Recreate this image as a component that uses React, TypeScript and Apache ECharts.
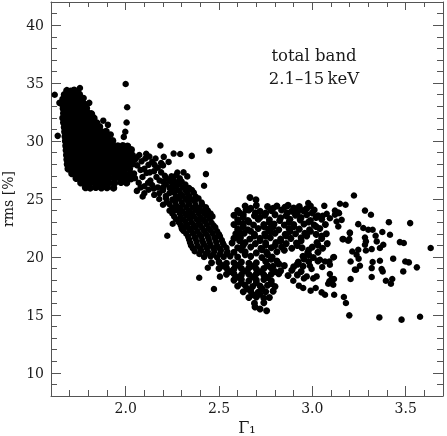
import React, { useEffect, useRef } from "react";
import * as echarts from "echarts";

// Axis ticks / labels
const xMajorTicks = [2.0, 2.5, 3.0, 3.5];
const xMinorTicks = [1.7, 1.8, 1.9, 2.1, 2.2, 2.3, 2.4, 2.6, 2.7, 2.8, 2.9, 3.1, 3.2, 3.3, 3.4, 3.6];
const yMajorTicks = [10, 15, 20, 25, 30, 35, 40];
const yMinorTicks = [9, 11, 12, 13, 14, 16, 17, 18, 19, 21, 22, 23, 24, 26, 27, 28, 29, 31, 32, 33, 34, 36, 37, 38, 39, 41];

// Dense cluster at low photon index
const clusterCore: [number, number][] = [
  [1.685,34.35],[1.705,34.3],[1.724,34.38],[1.742,34.28],
  [1.672,34.0],[1.69,33.95],[1.712,34.05],[1.733,33.98],[1.752,34.02],
  [1.664,33.6],[1.683,33.65],[1.703,33.55],[1.722,33.62],[1.745,33.58],[1.768,33.6],
  [1.66,33.2],[1.678,33.15],[1.698,33.25],[1.718,33.2],[1.74,33.18],[1.76,33.22],[1.782,33.15],
  [1.666,32.8],[1.686,32.85],[1.707,32.75],[1.727,32.8],[1.748,32.82],[1.77,32.78],[1.79,32.84],
  [1.668,32.4],[1.69,32.38],[1.71,32.45],[1.732,32.4],[1.754,32.36],[1.776,32.42],[1.798,32.4],[1.815,32.35],
  [1.664,32.0],[1.684,32.05],[1.705,31.98],[1.728,32.02],[1.75,32.0],[1.772,31.95],[1.795,32.04],[1.812,32.0],[1.83,31.96],
  [1.668,31.6],[1.69,31.62],[1.712,31.56],[1.735,31.6],[1.757,31.64],[1.78,31.58],[1.802,31.6],[1.826,31.62],[1.845,31.55],
  [1.672,31.2],[1.693,31.18],[1.715,31.24],[1.74,31.2],[1.762,31.16],[1.786,31.22],[1.81,31.2],[1.838,31.18],[1.86,31.24],
  [1.674,30.8],[1.697,30.84],[1.72,30.78],[1.744,30.8],[1.766,30.82],[1.79,30.76],[1.815,30.8],[1.842,30.84],[1.872,30.78],[1.895,30.82],
  [1.676,30.4],[1.7,30.38],[1.724,30.44],[1.748,30.4],[1.77,30.36],[1.795,30.42],[1.82,30.4],[1.848,30.38],[1.88,30.44],[1.905,30.4],
  [1.678,30.0],[1.702,30.04],[1.728,29.98],[1.752,30.0],[1.776,30.02],[1.8,29.96],[1.826,30.0],[1.852,30.04],[1.878,29.98],[1.905,30.0],[1.93,30.02],
  [1.68,29.6],[1.705,29.62],[1.73,29.56],[1.755,29.6],[1.78,29.64],[1.805,29.58],[1.83,29.6],[1.855,29.62],[1.88,29.56],[1.905,29.6],[1.93,29.64],[1.958,29.58],[1.985,29.6],[2.01,29.55],
  [1.682,29.2],[1.708,29.18],[1.733,29.24],[1.758,29.2],[1.783,29.16],[1.808,29.22],[1.833,29.2],[1.858,29.18],[1.883,29.24],[1.908,29.2],[1.933,29.16],[1.958,29.22],[1.983,29.2],[2.008,29.18],[2.03,29.25],
  [1.684,28.8],[1.71,28.84],[1.735,28.78],[1.76,28.8],[1.785,28.82],[1.81,28.76],[1.835,28.8],[1.86,28.84],[1.885,28.78],[1.91,28.8],[1.935,28.82],[1.96,28.76],[1.985,28.8],[2.01,28.84],[2.035,28.78],
  [1.686,28.4],[1.712,28.38],[1.737,28.44],[1.762,28.4],[1.787,28.36],[1.812,28.42],[1.837,28.4],[1.862,28.38],[1.887,28.44],[1.912,28.4],[1.937,28.36],[1.962,28.42],[1.987,28.4],[2.012,28.38],[2.03,28.45],
  [1.688,28.0],[1.714,28.04],[1.74,27.98],[1.765,28.0],[1.79,28.02],[1.815,27.96],[1.84,28.0],[1.865,28.04],[1.89,27.98],[1.915,28.0],[1.94,28.02],[1.965,27.96],[1.99,28.0],[2.015,28.04],
  [1.692,27.6],[1.718,27.62],[1.743,27.56],[1.768,27.6],[1.793,27.64],[1.818,27.58],[1.843,27.6],[1.868,27.62],[1.893,27.56],[1.918,27.6],[1.943,27.64],[1.968,27.58],[1.993,27.6],[2.02,27.62],
  [1.712,27.2],[1.738,27.18],[1.763,27.24],[1.788,27.2],[1.813,27.16],[1.838,27.22],[1.863,27.2],[1.888,27.18],[1.913,27.24],[1.94,27.2],[1.965,27.16],[1.99,27.22],[2.025,27.2],
  [1.735,26.8],[1.76,26.84],[1.785,26.78],[1.81,26.8],[1.835,26.82],[1.86,26.76],[1.885,26.8],[1.91,26.84],[1.94,26.78],[1.97,26.8],[2.0,26.82],[2.03,26.76],
  [1.76,26.4],[1.785,26.38],[1.81,26.44],[1.835,26.4],[1.86,26.36],[1.885,26.42],[1.91,26.4],[1.94,26.38],[1.975,26.44],[2.005,26.4],
  [1.785,26.0],[1.81,25.96],[1.84,26.02],[1.87,25.98],[1.9,26.0],[1.935,25.96],
];

const clusterOutliers: [number, number][] = [
  [1.62,34.0],[1.645,33.3],[1.636,30.45],[1.755,34.58],[2.0,34.92],[2.008,32.92],[2.005,31.6],[1.998,30.8],
  [1.99,30.36],[1.805,33.3],[1.775,33.72],[1.82,32.3],[1.88,31.76],[1.905,31.4],[1.85,31.3],[1.83,31.0],
  [1.92,30.56],[1.86,30.7],
];

const shoulder: [number, number][] = [
  [2.073,28.8],[2.127,28.66],[2.204,28.64],[2.257,28.92],[2.292,28.88],[2.354,28.72],[2.448,29.18],[2.186,29.62],
  [2.05,28.4],[2.062,27.9],[2.085,28.25],[2.1,27.6],[2.105,28.5],[2.122,27.95],[2.142,28.2],[2.09,26.9],
  [2.112,27.25],[2.132,26.6],[2.152,27.4],[2.165,26.9],[2.07,26.4],[2.1,26.1],[2.122,25.8],[2.142,26.2],
  [2.172,26.0],[2.182,26.6],[2.19,27.3],[2.155,27.95],[2.172,27.7],[2.045,27.2],[2.03,27.08],[2.06,25.7],
  [2.091,25.22],[2.153,25.36],[2.216,25.08],[2.234,25.5],[2.277,27.29],[2.23,28.2],[2.2,27.9],
  [2.04,28.0],[2.06,28.6],[2.08,27.5],[2.11,28.9],[2.13,27.3],[2.05,26.8],[2.08,26.0],[2.12,26.4],
  [2.15,25.9],[2.16,28.5],[2.19,28.1],[2.1,25.5],
];

const band: [number, number][] = [
  [2.21,27.0],[2.245,26.95],[2.27,27.05],
  [2.2,26.5],[2.235,26.55],[2.27,26.45],[2.3,26.5],
  [2.2,26.0],[2.235,25.95],[2.27,26.05],[2.305,26.0],[2.34,25.95],
  [2.18,25.5],[2.26,25.55],[2.295,25.45],[2.33,25.5],[2.365,25.55],
  [2.18,25.0],[2.25,24.95],[2.285,25.05],[2.32,25.0],[2.355,24.95],[2.39,25.05],
  [2.2,24.5],[2.235,24.55],[2.27,24.45],[2.305,24.5],[2.34,24.55],[2.375,24.45],[2.41,24.5],
  [2.235,24.0],[2.27,24.05],[2.305,23.95],[2.34,24.0],[2.375,24.05],[2.41,23.95],[2.44,24.0],
  [2.26,23.5],[2.295,23.45],[2.33,23.55],[2.365,23.5],[2.4,23.45],[2.435,23.55],[2.465,23.5],
  [2.285,23.0],[2.32,23.05],[2.355,22.95],[2.39,23.0],[2.425,23.05],[2.46,22.95],
  [2.3,22.5],[2.34,22.45],[2.375,22.55],[2.41,22.5],[2.445,22.45],[2.48,22.55],
  [2.325,22.0],[2.36,22.05],[2.395,21.95],[2.43,22.0],[2.465,22.05],[2.5,21.95],
  [2.34,21.5],[2.375,21.55],[2.41,21.45],[2.445,21.5],[2.48,21.55],[2.515,21.45],
  [2.35,21.0],[2.385,20.95],[2.42,21.05],[2.455,21.0],[2.49,20.95],[2.525,21.05],
  [2.37,20.5],[2.405,20.55],[2.44,20.45],[2.475,20.5],[2.51,20.55],[2.545,20.45],
  [2.42,20.0],[2.455,20.05],[2.49,19.95],[2.525,20.0],[2.56,20.05],
  [2.43,27.15],[2.42,26.14],[2.407,24.7],[2.31,27.3],[2.33,26.95],[2.252,22.86],[2.223,21.83],[2.327,25.8],
  [2.303,22.4],[2.318,22.6],[2.394,18.2],[2.473,17.23],[2.44,19.07],[2.505,18.3],
];

const bandFill: [number, number][] = [
  [2.22,26.75],[2.255,26.72],[2.29,26.78],
  [2.215,26.25],[2.25,26.22],[2.285,26.28],[2.32,26.25],
  [2.2,25.75],[2.25,25.78],[2.285,25.72],[2.32,25.75],[2.355,25.78],
  [2.215,25.25],[2.27,25.22],[2.305,25.28],[2.34,25.25],[2.375,25.22],
  [2.22,24.75],[2.265,24.78],[2.3,24.72],[2.335,24.75],[2.37,24.78],
  [2.25,24.25],[2.29,24.22],[2.325,24.28],[2.36,24.25],[2.395,24.22],[2.43,24.28],
  [2.25,23.75],[2.29,23.78],[2.32,23.72],[2.355,23.75],[2.39,23.78],[2.425,23.72],[2.455,23.75],
  [2.27,23.25],[2.31,23.22],[2.345,23.28],[2.38,23.25],[2.415,23.22],[2.45,23.28],
  [2.295,22.75],[2.33,22.78],[2.365,22.72],[2.4,22.75],[2.435,22.78],[2.47,22.72],
  [2.31,22.25],[2.35,22.28],[2.385,22.22],[2.42,22.25],[2.455,22.28],[2.49,22.22],
  [2.335,21.75],[2.37,21.72],[2.405,21.78],[2.44,21.75],[2.475,21.72],[2.505,21.78],
  [2.345,21.25],[2.38,21.28],[2.415,21.22],[2.45,21.25],[2.485,21.28],[2.52,21.22],
  [2.36,20.75],[2.4,20.72],[2.435,20.78],[2.47,20.75],[2.505,20.72],[2.54,20.78],
  [2.395,20.25],[2.43,20.28],[2.47,20.22],[2.505,20.25],[2.54,20.28],
];

const lowerArm: [number, number][] = [
  [2.46,19.5],[2.5,19.55],[2.54,19.45],[2.58,19.5],[2.62,19.55],[2.66,19.45],[2.7,19.5],
  [2.5,19.0],[2.54,19.05],[2.58,18.95],[2.62,19.0],[2.66,19.05],[2.7,18.95],[2.74,19.0],[2.78,19.05],
  [2.54,18.5],[2.58,18.55],[2.62,18.45],[2.66,18.5],[2.7,18.55],[2.74,18.45],[2.78,18.5],[2.82,18.55],
  [2.58,18.0],[2.62,18.05],[2.66,17.95],[2.7,18.0],[2.74,18.05],[2.78,17.95],
  [2.6,17.5],[2.64,17.55],[2.68,17.45],[2.72,17.5],[2.76,17.55],[2.8,17.45],
  [2.63,17.0],[2.67,17.05],[2.71,16.95],[2.75,17.0],[2.79,17.05],
  [2.66,16.5],[2.7,16.55],[2.74,16.45],[2.77,16.5],
  [2.69,16.0],[2.74,16.05],
  [2.693,15.68],[2.72,15.5],[2.755,15.36],
  [2.52,19.25],[2.6,19.28],[2.68,19.22],[2.76,19.25],
  [2.56,18.75],[2.64,18.78],[2.72,18.72],[2.8,18.75],
  [2.6,18.25],[2.68,18.28],[2.76,18.22],
  [2.62,17.75],[2.7,17.78],[2.78,17.72],
  [2.65,17.25],[2.73,17.28],
  [2.68,16.75],[2.72,16.78],
];

const upperCloud: [number, number][] = [
  [2.64,24.4],[2.7,24.45],[2.76,24.35],[2.81,24.4],[2.87,24.45],[2.93,24.35],[2.99,24.4],
  [2.6,24.0],[2.66,24.05],[2.72,23.95],[2.78,24.0],[2.835,24.05],[2.89,23.95],[2.95,24.0],[3.01,24.05],
  [2.58,23.6],[2.63,23.65],[2.69,23.55],[2.745,23.6],[2.8,23.65],[2.86,23.55],[2.91,23.6],[2.97,23.65],[3.03,23.55],
  [2.6,23.2],[2.655,23.15],[2.71,23.25],[2.77,23.2],[2.825,23.15],[2.88,23.25],[2.935,23.2],[2.99,23.15],[3.05,23.25],
  [2.58,22.8],[2.63,22.85],[2.685,22.75],[2.74,22.8],[2.795,22.85],[2.85,22.75],[2.9,22.8],[2.955,22.85],[3.01,22.75],[3.07,22.8],
  [2.6,22.4],[2.655,22.35],[2.71,22.45],[2.765,22.4],[2.82,22.35],[2.875,22.45],[2.93,22.4],[2.985,22.35],[3.04,22.45],
  [2.59,22.0],[2.635,22.05],[2.69,21.95],[2.745,22.0],[2.8,22.05],[2.855,21.95],[2.91,22.0],[2.96,22.05],[3.02,21.95],[3.075,22.0],
  [2.58,21.6],[2.615,21.65],[2.665,21.55],[2.72,21.6],[2.775,21.65],[2.83,21.55],[2.885,21.6],[2.94,21.65],[3.05,21.6],
  [2.57,21.2],[2.64,21.25],[2.695,21.15],[2.75,21.2],[2.805,21.25],[2.86,21.15],[2.915,21.2],[3.025,21.25],[3.08,21.15],
  [2.6,20.8],[2.67,20.85],[2.725,20.75],[2.78,20.8],[2.835,20.85],[2.89,20.75],[2.945,20.8],[3.0,20.85],[3.055,20.75],
  [2.58,20.4],[2.64,20.45],[2.7,20.35],[2.755,20.4],[2.81,20.45],[2.975,20.35],[3.03,20.4],
  [2.6,20.0],[2.67,20.05],[2.73,19.95],[2.785,20.0],[2.95,20.05],[3.005,19.95],
  [2.75,19.6],[2.81,19.65],[2.925,19.55],[2.98,19.6],[3.03,19.65],
  [2.79,19.2],[2.85,19.25],[2.9,19.15],[2.95,19.2],
  [2.83,18.8],[2.89,18.85],[2.94,18.75],
  [2.87,18.4],[2.92,18.45],
  [2.666,25.13],[2.698,24.93],[2.645,24.07],
];

const upperFill: [number, number][] = [
  [2.67,24.2],[2.79,24.2],[2.9,24.22],[2.97,24.18],
  [2.61,23.8],[2.695,23.82],[2.75,23.78],[2.865,23.8],[2.92,23.82],[3.0,23.8],
  [2.63,23.4],[2.72,23.42],[2.83,23.38],[2.94,23.4],[3.02,23.4],
  [2.605,23.0],[2.66,23.02],[2.77,22.98],[2.875,23.0],[2.98,23.02],
  [2.63,22.6],[2.74,22.62],[2.79,22.58],[2.9,22.6],[3.02,22.62],
  [2.61,22.2],[2.67,22.22],[2.775,22.18],[2.88,22.2],[2.99,22.22],
  [2.6,21.8],[2.69,21.82],[2.75,21.78],[2.86,21.8],[2.97,21.82],[3.05,21.8],
  [2.61,21.4],[2.72,21.42],[2.83,21.38],[2.94,21.4],
  [2.63,21.0],[2.75,21.02],[2.8,20.98],[2.92,21.0],[3.03,21.02],
  [2.62,20.6],[2.73,20.62],[2.85,20.58],[2.98,20.6],
  [2.64,20.2],[2.76,20.22],[2.98,20.2],
  [2.78,19.8],[2.955,19.82],
  [2.82,19.4],[2.92,19.38],
];

const rightScatter: [number, number][] = [
  [3.223,25.3],[2.978,24.65],[3.064,24.41],[3.148,24.59],[3.178,24.5],[2.852,24.3],[2.898,23.92],[2.919,23.87],
  [3.121,24.0],[3.139,23.84],[3.282,24.0],[3.314,23.64],[3.41,23.0],[3.524,22.92],[3.246,22.83],[3.273,22.5],
  [3.3,22.35],[3.323,22.35],[3.201,22.11],[3.375,22.15],[3.416,21.91],[3.162,21.54],[3.192,21.4],[3.282,21.68],
  [3.287,21.34],[3.282,21.05],[3.339,21.83],[3.345,21.34],[3.469,21.28],[3.49,21.2],[3.634,20.77],[3.38,21.05],
  [3.362,20.77],[3.214,20.47],[3.246,20.62],[3.287,20.56],[3.318,20.68],[3.248,19.85],[3.255,19.24],[3.234,18.9],
  [3.323,19.56],[3.318,19.04],[3.362,19.67],[3.371,18.96],[3.377,18.75],[3.433,19.85],[3.498,19.61],[3.517,19.53],
  [3.56,19.1],[3.487,18.75],[3.318,18.27],[3.205,18.1],[3.394,17.95],[3.421,17.69],[3.428,18.1],[3.169,16.54],
  [3.18,16.03],[3.198,14.96],[3.359,14.78],[3.478,14.59],[3.577,14.84],
  [2.987,19.24],[2.996,18.96],[2.97,18.32],[2.955,18.15],[3.005,18.15],[3.023,18.32],[2.898,17.95],[2.928,17.52],
  [2.951,17.32],[2.991,17.09],[3.018,17.32],[3.05,16.94],[3.068,16.74],[3.117,16.74],[3.094,18.53],[3.103,18.1],
  [3.116,18.1],[3.091,17.89],[3.091,19.61],[3.112,19.96],[3.068,19.61],[3.094,19.33],[3.041,19.76],[3.053,19.13],
  [3.116,19.99],[3.055,23.55],[3.077,23.72],[3.094,23.34],[3.121,23.64],[3.143,23.78],[3.13,23.06],[3.157,23.2],
  [3.139,22.63],[3.201,22.06],[3.198,21.54],[3.166,21.54],[3.237,20.19],[3.205,19.61],[3.228,18.9],[3.085,17.69],
  [3.112,17.6],
];

const groups: { data: [number, number][]; size: number }[] = [
  { data: clusterCore, size: 7.5 },
  { data: clusterOutliers, size: 6.5 },
  { data: shoulder, size: 6.5 },
  { data: band, size: 6.5 },
  { data: bandFill, size: 6.5 },
  { data: lowerArm, size: 7 },
  { data: upperCloud, size: 7 },
  { data: upperFill, size: 7 },
  { data: rightScatter, size: 6.5 },
];

export default function App() {
  const ref = useRef<HTMLDivElement>(null);
  useEffect(() => {
    if (!ref.current) return;
    const chart = echarts.init(ref.current, null, { renderer: "svg" });
    const font = "DejaVu Serif";
    const axisColor = "#555";
    const textColor = "#1a1a1a";

    const xAx = (pos: "bottom" | "top", ticks: number[], len: number, main: boolean, withLine: boolean) => ({
      type: "value",
      min: 1.6,
      max: 3.7,
      position: pos,
      axisLine: { show: withLine, onZero: false, lineStyle: { color: axisColor, width: 1 } },
      axisTick: { show: true, inside: true, length: len, customValues: ticks, lineStyle: { color: axisColor, width: 1 } },
      axisLabel: main
        ? { show: true, customValues: ticks, formatter: (v: number) => v.toFixed(1), margin: 5, fontFamily: font, fontSize: 14, color: textColor }
        : { show: false },
      splitLine: { show: false },
      ...(main
        ? { name: "Γ\u2081", nameLocation: "middle", nameGap: 14, nameTextStyle: { fontFamily: font, fontSize: 16, color: textColor } }
        : {}),
    });
    const yAx = (pos: "left" | "right", ticks: number[], len: number, main: boolean, withLine: boolean) => ({
      type: "value",
      min: 8,
      max: 42,
      position: pos,
      axisLine: { show: withLine, onZero: false, lineStyle: { color: axisColor, width: 1 } },
      axisTick: { show: true, inside: true, length: len, customValues: ticks, lineStyle: { color: axisColor, width: 1 } },
      axisLabel: main
        ? { show: true, customValues: ticks, formatter: (v: number) => String(Math.round(v)), margin: 7, fontFamily: font, fontSize: 14, color: textColor }
        : { show: false },
      splitLine: { show: false },
      ...(main
        ? { name: "rms [%]", nameLocation: "middle", nameGap: 28, nameTextStyle: { fontFamily: font, fontSize: 14, color: textColor } }
        : {}),
    });

    chart.setOption({
      animation: false,
      grid: { left: 51, right: 4, top: 2, bottom: 40, containLabel: false, outerBoundsMode: "none" },
      xAxis: [
        xAx("bottom", xMajorTicks, 10, true, true),
        xAx("bottom", xMinorTicks, 6, false, false),
        xAx("top", xMajorTicks, 8, false, true),
        xAx("top", xMinorTicks, 5, false, false),
      ],
      yAxis: [
        yAx("left", yMajorTicks, 10, true, true),
        yAx("left", yMinorTicks, 6, false, false),
        yAx("right", yMajorTicks, 10, false, true),
        yAx("right", yMinorTicks, 6, false, false),
      ],
      graphic: [
        { type: "text", x: 314, y: 55, style: { text: "total band", fontFamily: font, fontSize: 16.5, fill: textColor, align: "center", verticalAlign: "middle" } },
        { type: "text", x: 314, y: 78, style: { text: "2.1\u201315\u2009keV", fontFamily: font, fontSize: 16.5, fill: textColor, align: "center", verticalAlign: "middle" } },
      ],
      series: groups.map((g) => ({
        type: "scatter",
        xAxisIndex: 0,
        yAxisIndex: 0,
        data: g.data,
        symbol: "circle",
        symbolSize: g.size,
        itemStyle: { color: "#000", opacity: 1, borderWidth: 0 },
        emphasis: { disabled: true },
        silent: true,
      })),
    });
    return () => chart.dispose();
  }, []);
  return <div ref={ref} style={{ position: "fixed", left: 0, top: 0, width: 447, height: 436 }} />;
}
